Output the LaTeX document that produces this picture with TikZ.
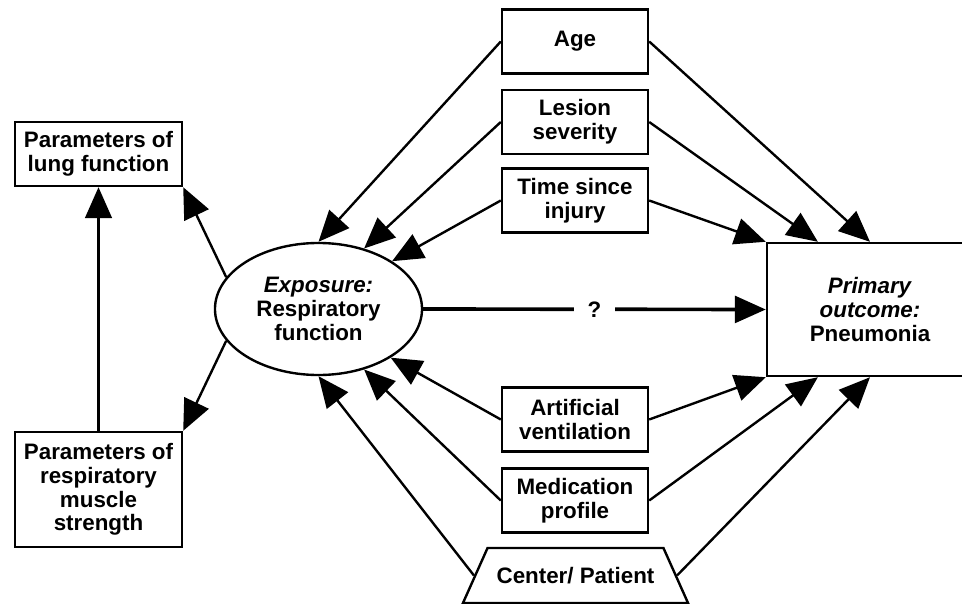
\documentclass[tikz,border=0pt]{standalone}
\usepackage{fontspec}
\setmainfont{Liberation Sans}
\usetikzlibrary{shapes,arrows.meta,calc}

\tikzset{
    factor/.style={
        draw,
        line width=1.7pt,
        align=center,
        font=\bfseries\fontsize{15.9}{16.8}\selectfont,
        minimum width=3.65cm,
        minimum height=1.6cm,
        inner sep=2pt
    },
    parambox/.style={factor, minimum width=4.175cm},
    link/.style={
        line width=1.7pt,
        -{Triangle[length=22pt,width=19pt]}
    },
}

\begin{document}
\begin{tikzpicture}[x=0.025cm, y=-0.025cm]
                \useasboundingbox (0,0) rectangle (962,604);

                % measures
                \node[parambox] (lung) at (98.5,154) {Parameters of\\lung function};
                \node[parambox, minimum height=2.875cm] (muscle) at (98.5,489.5)
                    {Parameters of\\respiratory\\muscle\\strength};

                % exposure and outcome
                \node[
                    factor,
                    ellipse,
                    minimum width=5.175cm,
                    minimum height=3.3cm
                    ] (expo) at (318.5,309) {\textit{Exposure:}\\Respiratory\\function};
                \node[
                    factor,
                    minimum width=5.15cm,
                    minimum height=3.325cm
                    ] (prim) at (870,309.5) {\textit{Primary}\\\textit{outcome:}\\Pneumonia};

                % confounders
                \node[factor] (age) at (575,41.5) {Age};
                \node[factor] (lesion) at (575,122) {Lesion\\severity};
                \node[factor] (time) at (575,200.5) {Time since\\injury};
                \node[factor] (vent) at (575,419.5) {Artificial\\ventilation};
                \node[factor] (med) at (575,500.5) {Medication\\profile};
                \node[
                    factor,
                    trapezium,
                    trapezium left angle=64,
                    trapezium right angle=64,
                    trapezium stretches body=true,
                    inner ysep=12pt,
                    minimum width=5.625cm,
                    minimum height=1.375cm
                    ] (center) at (575.5,575.5) {Center/ Patient};

                \coordinate (primtop) at ($(prim.north west)!0.5!(prim.north)$);
                \coordinate (primbot) at ($(prim.south west)!0.5!(prim.south)$);

                \draw[link] (muscle.north) to (lung.south);
                \draw[link] (expo.161) to (lung.south east);
                \draw[link] (expo.199) to (muscle.north east);

                \draw[link] (age.west) to (expo.90);
                \draw[link] (lesion.west) to (expo.53);
                \draw[link] (time.west) to (expo.33);
                \draw[link] (vent.west) to (expo.-34);
                \draw[link] (med.west) to (expo.-53);
                \draw[link] (center.left side) to (expo.-90);

                \draw[link] (age.east) to (prim.north);
                \draw[link] (lesion.east) to (primtop);
                \draw[link] (time.east) to (prim.north west);
                \draw[link] (vent.east) to (prim.south west);
                \draw[link] (med.east) to (primbot);
                \draw[link] (center.right side) to (prim.south);

                \draw[
                    link,
                    line width=2.6pt
                    ] (expo.east) to node[fill=white, inner xsep=10pt,
                        font=\bfseries\fontsize{15.9}{16.8}\selectfont] (q) {?} (prim.west);

\end{tikzpicture}
\end{document}
